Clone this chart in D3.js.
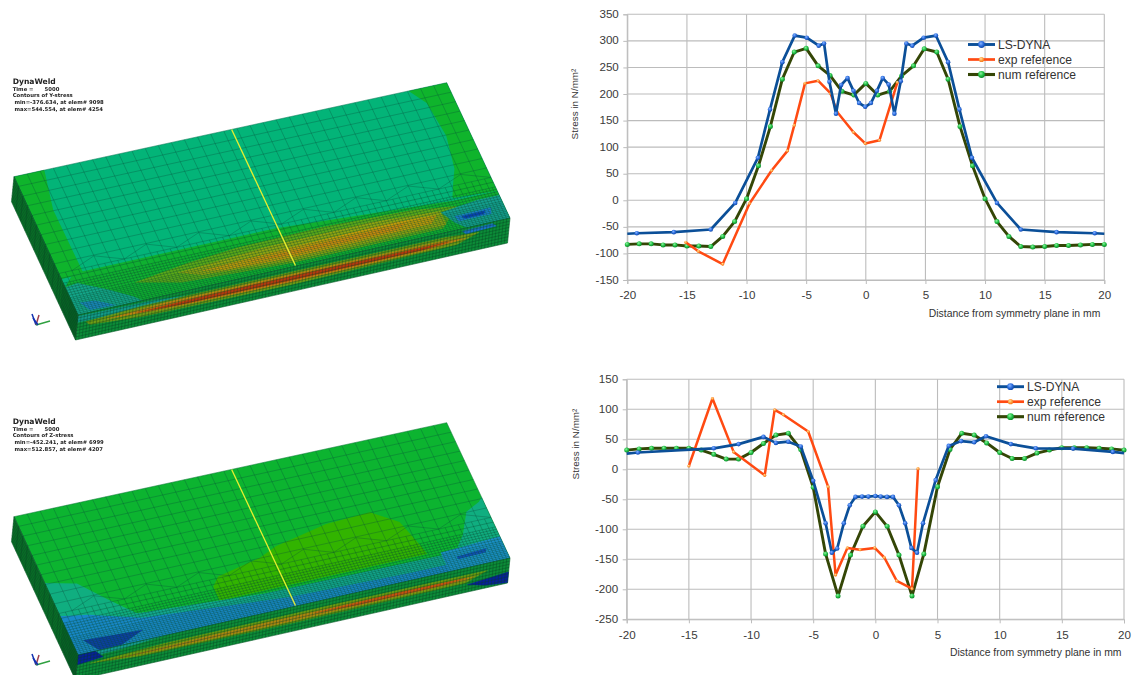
<!DOCTYPE html>
<html><head><meta charset="utf-8">
<style>html,body{margin:0;background:#fff}svg{display:block}
text{font-family:"Liberation Sans",Arial,sans-serif;fill:#333}</style>
<script src="https://cdnjs.cloudflare.com/ajax/libs/d3/7.8.5/d3.min.js"></script></head><body>
<script>
/* ---------- chart data ---------- */
const xTicks=[-20,-15,-10,-5,0,5,10,15,20];
const yTicksTop=[-150,-100,-50,0,50,100,150,200,250,300,350];
const yTicksBottom=[-250,-200,-150,-100,-50,0,50,100,150];
const seriesNames=["LS-DYNA","exp reference","num reference"];
const xTitle="Distance from symmetry plane in mm";
const yTitle="Stress in N/mm²";

const topDynaX=[-20,-19.2,-16.1,-13,-10.95,-9.05,-8.03,-7,-5.96,-4.95,-3.95,-3.5,-3.05,-2.5,-2.07,-1.53,-1.03,-0.56,-0.05,0.43,0.93,1.42,1.92,2.4,2.93,3.4,3.9,4.85,5.88,6.9,7.85,8.9,11,13,16,19.2,20];
const topDynaY=[-63,-62,-60,-55,-5,80,171,260,310,306,291,295,223,163,217,230,206,183,176,183,206,230,218,163,224,295,291,306,310,260,171,80,-5,-55,-60,-62,-63];
const topExpX=[-15.1,-14.04,-12,-9.75,-7.9,-6.57,-6,-5.1,-4,-2.95,-2.4,-1.03,-0.05,1.15,2.65];
const topExpY=[-79,-96,-120,-6,56,93,141,220,225,201,166,128,107,113,222];
const topNumX=[-20,-19,-18,-17,-16,-15,-14,-13,-12,-11,-10,-9,-8,-7,-6,-5,-4,-3,-2,-1,0,1,2,3,4,4.9,5.95,6.9,7.9,8.95,10,11,12,13,14,15,16,17,18,19,20];
const topNumY=[-83,-82,-82,-84,-84,-86,-86,-87,-68,-40,3,65,139,228,279,286,253,235,205,198,220,198,205,234,253,285,279,228,139,65,3,-40,-68,-87,-88,-87,-85,-85,-84,-83,-83];

const botDynaX=[-20,-19.1,-13,-11,-9,-8,-7,-6,-5,-4,-3.5,-3.07,-2.54,-2.06,-1.6,-1.07,-0.56,0,0.43,0.94,1.42,1.9,2.4,2.9,3.35,3.83,4.85,5.9,6.9,7.95,8.9,10.9,12.9,15.9,19.1,20];
const botDynaY=[26,28,35,42,54,44,46,38,-19,-90,-139,-132,-90,-60,-46,-45.5,-45.5,-44.5,-45.5,-46,-46,-60,-90,-131,-139,-90,-18,39,47,45,55,42,35,34.5,29,27];
const botExpX=[-15,-13.1,-11.4,-8.9,-8.1,-7.4,-5.4,-3.8,-3.2,-2.25,-1.23,-0.05,0.72,1.72,2.95,3.43];
const botExpY=[5.5,118,29,-10,99,91,63,-29,-176,-131,-134,-131,-147,-186,-199,1];
const botNumX=[-20,-19,-18,-17,-16,-15,-14,-13,-12,-11,-10,-9,-8,-7,-6,-5,-4,-3,-2,-1,0,0.95,1.9,2.95,3.9,5,6,6.95,7.95,8.95,10,11,12,13,14,15,16,17,18,19,20];
const botNumY=[32,34,35,35,35,35,32,25,17,17,28,43,57,60,33,-30,-141,-211,-143,-95,-71,-95,-143,-211,-141,-29,33,60,57,44,28,18,18,27,32,36,36,36,35,34,32];

/* ---------- simulation panel captions and contour regions (u along plate, v across plate) ---------- */
const captionTop=["DynaWeld","Time =      5000","Contours of Y-stress"," min=-376.634, at elem# 9098"," max=544.554, at elem# 4254"];
const captionBottom=["DynaWeld","Time =      5000","Contours of Z-stress"," min=-452.241, at elem# 6999"," max=512.857, at elem# 4207"];
const topFaceBaseA="#03b478", topFaceBaseB="#0cb430";
const regionsA=[
["#0fb42c",[[0,0],[.07,0],[.05,.275],[.052,.74],[0,.74]]],
["#0fb42c",[[.912,0],[1,0],[1,.8],[.899,.781],[.913,.694],[.932,.587],[.947,.355],[.938,.107]]],
["#0fb030",[[.03,.72],[.5,.72],[.7,.76],[.9,.8],[1,.8],[1,1],[0,1],[0,.8]]],
["#5aa818",[[.15,.87],[.28,.82],[.4,.79],[.6,.78],[.8,.8],[.9,.84],[.85,.97],[.5,.975],[.25,.94]]],
["#90a410",[[.25,.87],[.45,.83],[.7,.82],[.86,.85],[.86,.95],[.5,.96],[.3,.92]]],
["#c49c08",[[.3,.89],[.5,.87],[.75,.855],[.85,.87],[.83,.92],[.5,.94],[.35,.92]]],
["#d68c0a",[[.4,.9],[.6,.885],[.78,.875],[.75,.91],[.5,.92]]],
["#14a68a",[[0,.8],[.03,.79],[.09,.88],[.135,.96],[.15,1],[0,1]]],
["#1a88c0",[[.015,.92],[.05,.93],[.09,.99],[.03,.985]]],
["#14a090",[[.86,.86],[.95,.83],[1,.83],[1,1],[.9,1],[.88,.95]]],
["#1a80d0",[[.885,.905],[.97,.9],[.965,.945],[.89,.945]]],
["#0a40c0",[[.9,.915],[.955,.912],[.95,.935],[.905,.935]]]];
const regionsB=[
["#32b400",[[.35,.75],[.37,.69],[.476,.626],[.522,.573],[.648,.5],[.751,.487],[.804,.595],[.827,.805],[.83,.85],[.35,.85]]],
["#10ae80",[[0,.48],[.067,.53],[.12,.69],[.164,.81],[.32,.88],[0,.9]]],
["#12a890",[[0,.8],[.2,.82],[.45,.87],[.9,.88],[1,.85],[1,1],[0,1]]],
["#1888c8",[[0,.72],[.06,.75],[.17,.85],[.5,.93],[.78,.95],[.9,.95],[.9,1],[0,1]]],
["#0c3eaa",[[.025,.91],[.161,.93],[.1,1],[.05,1]]],
["#10ae80",[[1,.55],[.99,.578],[.954,.625],[.924,.774],[.9,.85],[1,.85]]],
["#1a90c8",[[.86,.86],[1,.84],[1,1],[.86,1]]],
["#1050c0",[[.89,.91],[.96,.9],[.955,.925],[.89,.93]]]];
const frontBase="#0c8c38";
/* front-face contours, points are [u, t] with t running down the plate thickness */
const frontA=[
["#129a8a",[[0,.05],[.18,.1],[.25,.2],[.1,.3],[0,.3]]],
["#6f9a14",[[.02,.35],[.15,.22],[.5,.2],[.85,.2],[.93,.3],[.88,.6],[.5,.72],[.15,.65],[.03,.5]]],
["#bd8010",[[.07,.42],[.2,.3],[.5,.3],[.85,.33],[.9,.42],[.82,.55],[.5,.62],[.2,.55]]],
["#b5380f",[[.14,.44],[.3,.38],[.6,.38],[.86,.42],[.8,.5],[.5,.54],[.25,.52]]],
["#1a70c8",[[.89,.1],[.96,.06],[.97,.2],[.9,.25]]]];
const frontB=[
["#149a90",[[0,0],[.2,0],[.1,.15],[0,.2]]],
["#6a9a10",[[.03,.45],[.2,.32],[.6,.28],[.95,.3],[.9,.62],[.5,.66],[.15,.62]]],
["#ad8510",[[.08,.5],[.3,.42],[.6,.38],[.92,.42],[.9,.52],[.5,.58],[.2,.56]]],
["#c85010",[[.55,.45],[.75,.38],[.9,.42],[.85,.5],[.65,.52]]],
["#08209a",[[.905,.7],[1,.55],[1,.98],[.95,.9]]],
["#08209a",[[0,0],[.04,0],[.06,.3],[0,.4]]]];

/* ---------- page ---------- */
const W=1133,H=675;
const svg=d3.select("body").append("svg").attr("width",W).attr("height",H).attr("viewBox",[0,0,W,H]);

const uvCorners={A:[14,176.7],B:[446.7,82.7],C:[510,218],D:[78,315]};
const drop=[-2.5,25];
function lerp(a,b,t){return [a[0]+(b[0]-a[0])*t,a[1]+(b[1]-a[1])*t];}
function topPt(u,v){return lerp(lerp(uvCorners.A,uvCorners.B,u),lerp(uvCorners.D,uvCorners.C,u),v);}
function frontPt(u,t){const p=lerp(uvCorners.D,uvCorners.C,u);return [p[0]+drop[0]*t,p[1]+drop[1]*t];}
function sidePt(v,t){const p=lerp(uvCorners.A,uvCorners.D,v);return [p[0]+drop[0]*t,p[1]+drop[1]*t];}

function panel(dy,regions,base,frontRegions,caption){
  const g=svg.append("g").attr("transform",`translate(0,${dy})`);
  const art=g.append("g").style("filter","blur(0.45px)");
  const closed=pts=>d3.line()(pts)+"Z";
  const poly=(pts,fill)=>art.append("path").attr("d",closed(pts)).attr("fill",fill).attr("stroke",fill).attr("stroke-width",.3);
  poly([topPt(0,0),topPt(1,0),topPt(1,1),topPt(0,1)],base);
  regions.forEach(([c,pts])=>art.append("path").attr("d",closed(pts.map(p=>topPt(p[0],p[1])))).attr("fill",c));
  poly([frontPt(0,0),frontPt(1,0),frontPt(1,1),frontPt(0,1)],frontBase);
  frontRegions.forEach(([c,pts])=>poly(pts.map(p=>frontPt(p[0],p[1])),c));
  poly([sidePt(0,0),sidePt(1,0),sidePt(1,1),sidePt(0,1)],"#0a7028");

  const coarsePath=d3.path(), finePath=d3.path(), facePath=d3.path();
  const seg=(m,a,b)=>{m.moveTo(a[0],a[1]);m.lineTo(b[0],b[1]);};
  const coarseRows=d3.range(0,10.5).map(i=>i*.07);
  const fineRows=[.735,.77].concat(d3.range(1,7).map(i=>.77+i*.0175),d3.range(1,10).map(i=>.875+i*.0125),[1]);
  coarseRows.forEach(v=>seg(coarsePath,topPt(0,v),topPt(1,v)));
  fineRows.forEach(v=>seg(finePath,topPt(0,v),topPt(1,v)));
  for(let i=0;i<=33;i++)seg(coarsePath,topPt(i/33,0),topPt(i/33,.7));
  for(let i=0;i<=66;i++)seg(finePath,topPt(i/66,.7),topPt(i/66,.77));
  for(let i=0;i<=132;i++)seg(finePath,topPt(i/132,.77),topPt(i/132,1));
  for(let i=1;i<=29;i+=4){const u=i/33;seg(coarsePath,topPt(u,.7),topPt(u+2/33,.635));seg(coarsePath,topPt(u+2/33,.635),topPt(u+4/33,.7));}
  for(let i=0;i<=132;i++)seg(facePath,frontPt(i/132,0),frontPt(i/132,1));
  for(let j=0;j<=8;j++){seg(facePath,frontPt(0,j/8),frontPt(1,j/8));seg(facePath,sidePt(0,j/8),sidePt(1,j/8));}
  coarseRows.concat(fineRows).forEach(v=>seg(facePath,sidePt(v,0),sidePt(v,1)));
  art.append("path").attr("d",coarsePath.toString()).attr("fill","none").attr("stroke","#0a4a3a").attr("stroke-width",.5).attr("stroke-opacity",.62);
  art.append("path").attr("d",finePath.toString()).attr("fill","none").attr("stroke","#0a4a30").attr("stroke-width",.5).attr("stroke-opacity",.7);
  art.append("path").attr("d",facePath.toString()).attr("fill","none").attr("stroke","#06401f").attr("stroke-width",.5).attr("stroke-opacity",.75);
  const y0=topPt(.503,0),y1=topPt(.504,.996);
  art.append("line").attr("x1",y0[0]).attr("y1",y0[1]).attr("x2",y1[0]).attr("y2",y1[1]).attr("stroke","#e8ee30").attr("stroke-width",1.3);

  const triad=art.append("g").attr("fill","none").attr("stroke-width",1.5);
  triad.append("path").attr("d","M36,325 L32,314").attr("stroke","#1030b0");
  triad.append("path").attr("d","M36,325 L39,315").attr("stroke","#a04050");
  triad.append("path").attr("d","M36,325 L50,321").attr("stroke","#30a040");
  triad.append("path").attr("d","M33,318 L38,325").attr("stroke","#1030b0");

  const rowY=[84,90.7,97.3,104,110.7];
  g.append("g").style("filter","blur(0.3px)").selectAll("text").data(caption).join("text")
    .attr("x",12.7).attr("y",(d,i)=>rowY[i])
    .style("white-space","pre")
    .style("font-family","'DejaVu Sans'").style("font-weight","bold")
    .style("font-size",(d,i)=>i==0?"7.6px":"5.3px").style("fill","#222").text(d=>d);
}
panel(0,regionsA,topFaceBaseA,frontA,captionTop);
panel(340,regionsB,topFaceBaseB,frontB,captionBottom);

function gradient(id,c0,c1,c2){
  const g=svg.append("defs").append("radialGradient").attr("id",id).attr("cx","40%").attr("cy","35%").attr("r","65%");
  [[0,c0],[.55,c1],[1,c2]].forEach(([o,c])=>g.append("stop").attr("offset",o).attr("stop-color",c));
}
gradient("gBlue","#86b4ff","#2f6fe0","#124aa8");
gradient("gOrange","#ffe0a0","#ffa040","#f07a20");
gradient("gGreen","#90f0a0","#24c448","#0f8a2c");

const seriesStyle=[
 {line:"#0b4f98",w:2.7,fill:"url(#gBlue)",r:2.3},
 {line:"#ff4a12",w:2.5,fill:"url(#gOrange)",r:1.6},
 {line:"#344606",w:2.9,fill:"url(#gGreen)",r:2.5}];

function chart(o){
  const x=d3.scaleLinear().domain([-20,20]).range([o.left,o.right]);
  const y=d3.scaleLinear().domain([o.yMin,o.yMax]).range([o.bottom,o.top]);
  const g=svg.append("g");
  const grid=g.append("g").attr("stroke","#bcbcbc").attr("stroke-width",1.1);
  grid.selectAll(".gx").data(xTicks).join("line").attr("x1",d=>x(d)).attr("x2",d=>x(d)).attr("y1",o.top).attr("y2",o.bottom);
  grid.selectAll(".gy").data(o.yTicks).join("line").attr("y1",d=>y(d)).attr("y2",d=>y(d)).attr("x1",o.left).attr("x2",o.right);
  const ax=g.append("g").attr("transform",`translate(0,${o.bottom})`)
     .call(d3.axisBottom(x).tickValues(xTicks).tickFormat(d3.format("d")).tickSize(4).tickPadding(o.xPad));
  const ay=g.append("g").attr("transform",`translate(${o.left},0)`)
     .call(d3.axisLeft(y).tickValues(o.yTicks).tickFormat(d3.format("d")).tickSize(4).tickPadding(4.5));
  [ax,ay].forEach(a=>{a.select(".domain").attr("stroke","#bcbcbc");a.selectAll("line").attr("stroke","#bcbcbc");
     a.selectAll("text").style("font-size","11.6px").style("fill","#3a3a3a").style("font-family","'Liberation Sans'");
     a.attr("font-family",null).attr("font-size",null);});
  ax.selectAll("text").text(d=>String(d));
  ay.selectAll("text").text(d=>String(d)).attr("dy","0.26em");

  const marks=g.append("g").style("filter","blur(0.25px)");
  const lineGen=d3.line().x(d=>x(d[0])).y(d=>y(d[1]));
  [2,1,0].forEach(i=>{
    const pts=d3.zip(o.series[i][0],o.series[i][1]), s=seriesStyle[i];
    marks.append("path").datum(pts).attr("d",lineGen).attr("fill","none").attr("stroke",s.line).attr("stroke-width",s.w).attr("stroke-linejoin","round");
    const shown=i==0?pts.filter(p=>Math.abs(p[0])<20):pts;
    marks.selectAll(null).data(shown).join("circle").attr("cx",d=>x(d[0])).attr("cy",d=>y(d[1])).attr("r",s.r).attr("fill",s.fill);
  });

  const lg=g.append("g");
  seriesNames.forEach((n,i)=>{
    const yy=o.legY+i*o.legStep, s=seriesStyle[i], cx=o.legX+13.5;
    lg.append("line").attr("x1",o.legX).attr("x2",o.legX+27).attr("y1",yy).attr("y2",yy).attr("stroke",s.line).attr("stroke-width",s.w+.2);
    lg.append("circle").attr("cx",cx).attr("cy",yy).attr("r",i==1?2.6:3.4).attr("fill",s.fill);
    lg.append("text").attr("x",o.legX+30).attr("y",yy+4.2).style("font-size","12.1px").style("fill","#333").text(n);
  });
  g.append("text").attr("x",o.right-o.titleInset).attr("y",o.titleY).attr("text-anchor","end").style("font-size","10.4px").style("fill","#333").text(xTitle);
  g.append("text").attr("transform",`translate(${o.yTitleX},${o.yTitleC}) rotate(-90)`).attr("text-anchor","middle").style("font-size","9.9px").style("fill","#333").text(yTitle);
}

chart({left:627.3,right:1104.3,top:14.3,bottom:280,yMin:-150,yMax:350,yTicks:yTicksTop,xPad:6.5,
  series:[[topDynaX,topDynaY],[topExpX,topExpY],[topNumX,topNumY]],
  legX:968,legY:44.5,legStep:15,titleInset:4,titleY:317,yTitleX:578,yTitleC:104});
chart({left:626.7,right:1124,top:379.3,bottom:619.3,yMin:-250,yMax:150,yTicks:yTicksBottom,xPad:7.5,
  series:[[botDynaX,botDynaY],[botExpX,botExpY],[botNumX,botNumY]],
  legX:997,legY:386.7,legStep:15,titleInset:2.5,titleY:656,yTitleX:579,yTitleC:444});
</script></body></html>
